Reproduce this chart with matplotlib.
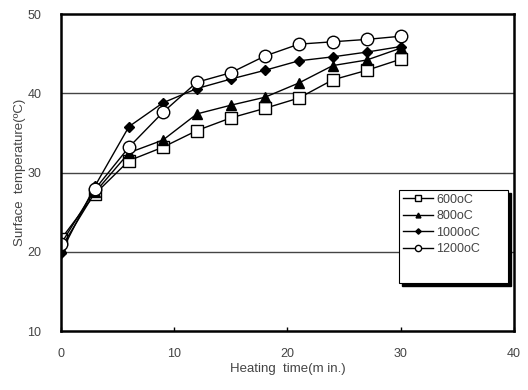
from matplotlib import pyplot as plt
from matplotlib.patches import Rectangle

time = [0, 3, 6, 9, 12, 15, 18, 21, 24, 27, 30]
t600 = [21.6, 27.3, 31.5, 33.2, 35.3, 36.9, 38.1, 39.4, 41.7, 42.9, 44.3]
t800 = [20.5, 27.5, 32.5, 34.1, 37.4, 38.5, 39.5, 41.3, 43.5, 44.2, 45.7]
t1000 = [19.9, 28.3, 35.8, 38.8, 40.6, 41.8, 42.9, 44.1, 44.6, 45.2, 45.9]
t1200 = [21.0, 27.9, 33.2, 37.6, 41.4, 42.6, 44.7, 46.2, 46.5, 46.8, 47.2]
labels = ['600oC', '800oC', '1000oC', '1200oC']

plt.rcParams['font.family'] = ['Liberation Sans', 'DejaVu Sans']

fig = plt.figure(figsize=(5.28, 3.9), dpi=100)
ax = fig.add_axes([0.1155, 0.151, 0.858, 0.813])

ax.plot(time, t600, '-s', color='black', mfc='white', mec='black', ms=8, lw=1, mew=1, label=labels[0])
ax.plot(time, t800, '-^', color='black', mfc='black', ms=7, lw=1, label=labels[1])
ax.plot(time, t1000, '-D', color='black', mfc='black', ms=5.5, lw=1, label=labels[2])
ax.plot(time, t1200, '-o', color='black', mfc='white', mec='black', ms=9, lw=1, mew=1, label=labels[3])

ax.set_xlim(0, 40)
ax.set_ylim(10, 50)
ax.set_xticks([0, 10, 20, 30, 40])
ax.set_yticks([10, 20, 30, 40, 50])
for y in [20, 30, 40]:
    ax.axhline(y, color='#444444', lw=1, zorder=0)

for s in ax.spines.values():
    s.set_linewidth(1.8)
ax.tick_params(axis='x', direction='in', length=3, width=1, pad=12, labelsize=9, labelcolor='#444444')
ax.tick_params(axis='y', length=0, pad=14, labelsize=9, labelcolor='#444444')

ax.set_xlabel('Heating  time(m in.)', fontsize=9.5, color='#444444', labelpad=2)
ax.set_ylabel('Surface  temperature(ºC)', fontsize=9.5, color='#444444', labelpad=1)

# legend box with a shadow, taller than its entries
x0, x1, y0, y1 = 0.746, 0.987, 0.151, 0.445
shadow = Rectangle((x0 + 0.006, y0 - 0.009), x1 - x0, y1 - y0, transform=ax.transAxes,
                   facecolor='black', edgecolor='black', zorder=5)
box = Rectangle((x0, y0), x1 - x0, y1 - y0, transform=ax.transAxes,
                facecolor='white', edgecolor='black', lw=0.8, zorder=6)
ax.add_patch(shadow)
ax.add_patch(box)

leg = ax.legend(loc='upper left', bbox_to_anchor=(x0, y1), fontsize=9, frameon=False,
                handlelength=2.4, handletextpad=0.3, labelspacing=0.35, borderpad=0.3,
                borderaxespad=0, markerscale=0.5)
leg.set_zorder(7)
for txt in leg.get_texts():
    txt.set_color('#444444')

fig.savefig('out.png', dpi=100)
